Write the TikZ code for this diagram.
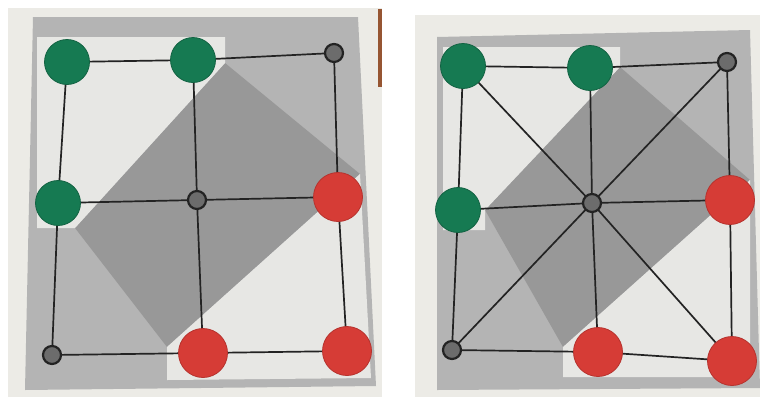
\documentclass[tikz,border=0pt]{standalone}

\definecolor{paper}{RGB}{236,235,230}
\definecolor{boardgrey}{RGB}{180,180,180}
\definecolor{bandgrey}{RGB}{152,152,152}
\definecolor{printwhite}{RGB}{231,231,228}
\definecolor{piecegreen}{RGB}{22,122,82}
\definecolor{piecered}{RGB}{214,60,54}
\definecolor{holegrey}{RGB}{108,108,108}
\definecolor{inkline}{RGB}{35,35,35}
\definecolor{tablewood}{RGB}{150,85,50}

\begin{document}
\begin{tikzpicture}[x=1pt, y=-1pt,
  boardline/.style={draw=inkline, line width=1.7pt},
  greenpiece/.style={circle, fill=piecegreen, draw=piecegreen!80!black, line width=0.8pt, minimum size=45pt, inner sep=0pt},
  redpiece/.style={circle, fill=piecered, draw=piecered!85!black, line width=0.8pt, minimum size=49pt, inner sep=0pt},
  hole/.style={circle, fill=holegrey, draw=inkline, line width=2.2pt, minimum size=18pt, inner sep=0pt}]
  \useasboundingbox (0,0) rectangle (760,397);

  % Left photo: paper, board and printed shading
  \fill[paper] (8,8) rectangle (382,397);
  \fill[tablewood] (378,9) rectangle (382,87);
  \fill[boardgrey] (33,17) -- (358,17) -- (376,386) -- (25,390) -- cycle;
  \fill[bandgrey] (225,63) -- (360,174) -- (167,347) -- (75,228) -- cycle;
  \fill[printwhite] (37,37) -- (225,37) -- (225,63) -- (75,228) -- (37,228) -- cycle;
  \fill[printwhite] (360,174) -- (371,378) -- (167,380) -- (167,347) -- cycle;

  % Left board points
  \coordinate (l11) at (67,62);
  \coordinate (l12) at (193,60);
  \coordinate (l13) at (334,53);
  \coordinate (l21) at (58,203);
  \coordinate (l22) at (197,200);
  \coordinate (l23) at (338,197);
  \coordinate (l31) at (52,355);
  \coordinate (l32) at (203,353);
  \coordinate (l33) at (347,351);

  % Left board lines
  \draw[boardline] (l11) -- (l12) -- (l13) -- (l23) -- (l33) -- (l32) -- (l31) -- (l21) -- cycle;
  \draw[boardline] (l21) -- (l22) -- (l23);
  \draw[boardline] (l12) -- (l22) -- (l32);

  % Left board pieces
  \node[greenpiece] (lg1) at (l11) {};
  \node[greenpiece] (lg2) at (l12) {};
  \node[greenpiece] (lg3) at (l21) {};
  \node[redpiece] (lr1) at (l23) {};
  \node[redpiece] (lr2) at (l32) {};
  \node[redpiece] (lr3) at (l33) {};
  \node[hole] (lh1) at (l13) {};
  \node[hole] (lh2) at (l22) {};
  \node[hole] (lh3) at (l31) {};

  % Right photo: paper, board and printed shading
  \fill[paper] (415,15) rectangle (760,397);
  \fill[boardgrey] (437,37) -- (750,30) -- (760,388) -- (437,390) -- cycle;
  \fill[bandgrey] (620,67) -- (750,180) -- (563,347) -- (485,210) -- cycle;
  \fill[printwhite] (443,47) -- (620,47) -- (620,67) -- (485,210) -- (485,230) -- (443,230) -- cycle;
  \fill[printwhite] (750,180) -- (750,377) -- (563,377) -- (563,347) -- cycle;

  % Right board points
  \coordinate (r11) at (463,66);
  \coordinate (r12) at (590,68);
  \coordinate (r13) at (727,62);
  \coordinate (r21) at (458,210);
  \coordinate (r22) at (592,203);
  \coordinate (r23) at (730,200);
  \coordinate (r31) at (452,350);
  \coordinate (r32) at (598,352);
  \coordinate (r33) at (732,361);

  % Right board lines, diagonals included
  \draw[boardline] (r11) -- (r12) -- (r13) -- (r23) -- (r33) -- (r32) -- (r31) -- (r21) -- cycle;
  \draw[boardline] (r21) -- (r22) -- (r23);
  \draw[boardline] (r12) -- (r22) -- (r32);
  \draw[boardline] (r11) -- (r22) -- (r33);
  \draw[boardline] (r13) -- (r22) -- (r31);

  % Right board pieces
  \node[greenpiece] (rg1) at (r11) {};
  \node[greenpiece] (rg2) at (r12) {};
  \node[greenpiece] (rg3) at (r21) {};
  \node[redpiece] (rr1) at (r23) {};
  \node[redpiece] (rr2) at (r32) {};
  \node[redpiece] (rr3) at (r33) {};
  \node[hole] (rh1) at (r13) {};
  \node[hole] (rh2) at (r22) {};
  \node[hole] (rh3) at (r31) {};
\end{tikzpicture}
\end{document}
